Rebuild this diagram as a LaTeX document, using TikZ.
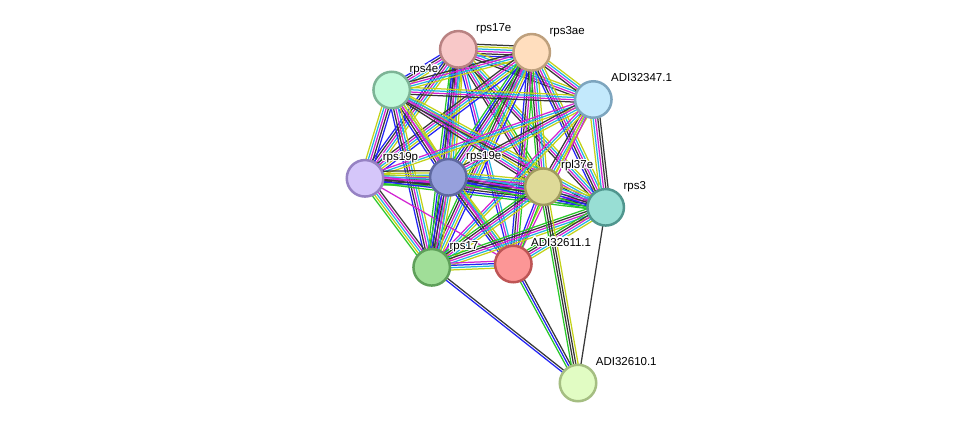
\documentclass[tikz,border=0pt]{standalone}
\usepackage{fontspec}
\setmainfont{Liberation Sans}
\usepackage{contour}
\contourlength{1.2pt}
\usetikzlibrary{calc}
\pgfdeclarelayer{background}
\pgfsetlayers{background,main}

\definecolor{strgreen}{RGB}{40,200,40}
\definecolor{strblue}{RGB}{35,35,245}
\definecolor{strblack}{RGB}{55,55,55}
\definecolor{strpink}{RGB}{210,35,210}
\definecolor{strcyan}{RGB}{35,180,225}
\definecolor{stryellow}{RGB}{195,210,25}

\tikzstyle{protein} = [circle, minimum size=36.5pt, inner sep=0pt, line width=2.5pt]
\tikzstyle{tag} = [anchor=base west, inner sep=0pt, font=\fontsize{11.5}{13}\selectfont]
\tikzstyle{link} = [line width=1.25pt]

% one evidence line per colour, side by side
\newcommand{\strlink}[3]{%
  \foreach \lcol [count=\lidx] in {#3} {\xdef\nlines{\lidx}}%
  \foreach \lcol [count=\lidx] in {#3} {%
    \pgfmathsetmacro{\loff}{(\lidx-(\nlines+1)/2)*2.3}%
    \draw [link, \lcol] ($(#1.center)!\loff pt!90:(#2.center)$) -- ($(#2.center)!\loff pt!-90:(#1.center)$);
  }}

\begin{document}
\begin{tikzpicture}[x=1pt, y=-1pt]
\useasboundingbox (0,0) rectangle (975,429);

%proteins
\node (rps17e) [protein, fill={rgb,255:red,248;green,200;blue,200}, draw={rgb,255:red,185;green,130;blue,130}] at (458.3,49.3) {};
\node (rps3ae) [protein, fill={rgb,255:red,255;green,222;blue,190}, draw={rgb,255:red,190;green,160;blue,125}] at (531.7,52.3) {};
\node (rps4e) [protein, fill={rgb,255:red,195;green,250;blue,220}, draw={rgb,255:red,125;green,180;blue,150}] at (391.7,90) {};
\node (adi347) [protein, fill={rgb,255:red,195;green,233;blue,252}, draw={rgb,255:red,125;green,165;blue,190}] at (593.3,99.5) {};
\node (rps19p) [protein, fill={rgb,255:red,213;green,198;blue,250}, draw={rgb,255:red,150;green,130;blue,195}] at (365,178.3) {};
\node (rps19e) [protein, fill={rgb,255:red,150;green,160;blue,220}, draw={rgb,255:red,95;green,105;blue,160}] at (448.3,177.3) {};
\node (rpl37e) [protein, fill={rgb,255:red,222;green,218;blue,152}, draw={rgb,255:red,160;green,155;blue,95}] at (543.3,186.7) {};
\node (rps3) [protein, fill={rgb,255:red,152;green,222;blue,212}, draw={rgb,255:red,80;green,150;blue,142}] at (605.7,207.3) {};
\node (rps17) [protein, fill={rgb,255:red,160;green,222;blue,152}, draw={rgb,255:red,95;green,160;blue,90}] at (431.7,267.3) {};
\node (adi611) [protein, fill={rgb,255:red,252;green,150;blue,150}, draw={rgb,255:red,190;green,85;blue,85}] at (513.3,264) {};
\node (adi610) [protein, fill={rgb,255:red,225;green,252;blue,195}, draw={rgb,255:red,165;green,190;blue,130}] at (578,383) {};

%labels
\node (t-rps17e) [tag] at ($(rps17e)+(17.7,-18)$) {\contour{white}{rps17e}};
\node (t-rps3ae) [tag] at ($(rps3ae)+(17.7,-18)$) {\contour{white}{rps3ae}};
\node (t-rps4e) [tag] at ($(rps4e)+(17.7,-18)$) {\contour{white}{rps4e}};
\node (t-adi347) [tag] at ($(adi347)+(17.7,-18)$) {\contour{white}{ADI32347.1}};
\node (t-rps19p) [tag] at ($(rps19p)+(17.7,-18)$) {\contour{white}{rps19p}};
\node (t-rps19e) [tag] at ($(rps19e)+(17.7,-18)$) {\contour{white}{rps19e}};
\node (t-rpl37e) [tag] at ($(rpl37e)+(17.7,-18)$) {\contour{white}{rpl37e}};
\node (t-rps3) [tag] at ($(rps3)+(17.7,-18)$) {\contour{white}{rps3}};
\node (t-rps17) [tag] at ($(rps17)+(17.7,-18)$) {\contour{white}{rps17}};
\node (t-adi611) [tag] at ($(adi611)+(17.7,-18)$) {\contour{white}{ADI32611.1}};
\node (t-adi610) [tag] at ($(adi610)+(17.7,-18)$) {\contour{white}{ADI32610.1}};

%links
\begin{pgfonlayer}{background}
\strlink{rps17e}{rps3ae}{strblue,strblack,strpink,strcyan,stryellow,strblack}
\strlink{rps17e}{rps4e}{strblue,strblack,strpink,strcyan,stryellow}
\strlink{rps17e}{adi347}{strblack,strpink,strcyan,stryellow}
\strlink{rps17e}{rps19p}{strblue,strblack,strpink,strcyan,stryellow}
\strlink{rps17e}{rps19e}{strgreen,strblue,strblack,strpink,strcyan,stryellow}
\strlink{rps17e}{rpl37e}{strblack,strpink,strcyan,stryellow,strgreen}
\strlink{rps17e}{rps3}{strblack,strpink,strcyan,stryellow}
\strlink{rps17e}{rps17}{strgreen,strblue,strblack,strpink,strcyan,stryellow}
\strlink{rps17e}{adi611}{strblue,strpink,strcyan}
\strlink{rps3ae}{rps4e}{strblack,strpink,strcyan,stryellow}
\strlink{rps3ae}{adi347}{strblack,strpink,strcyan,stryellow}
\strlink{rps3ae}{rps19p}{strblack,strpink,strcyan,stryellow,strblue}
\strlink{rps3ae}{rps19e}{strgreen,strblue,strblack,strpink,strcyan,stryellow}
\strlink{rps3ae}{rpl37e}{strgreen,strblack,strpink,strcyan,stryellow}
\strlink{rps3ae}{rps3}{strblue,strblack,strpink,strcyan,stryellow}
\strlink{rps3ae}{rps17}{strgreen,strblack,strpink,strcyan,stryellow,strblue}
\strlink{rps3ae}{adi611}{strblue,strblack,strpink,strgreen}
\strlink{rps4e}{adi347}{strblack,strpink,strcyan,stryellow}
\strlink{rps4e}{rps19p}{stryellow,strcyan,strpink,strblack,strblue}
\strlink{rps4e}{rps19e}{strblue,strblack,strpink,strcyan,stryellow}
\strlink{rps4e}{rpl37e}{strblack,strpink,strcyan,stryellow}
\strlink{rps4e}{rps3}{strblack,strpink,strcyan,stryellow}
\strlink{rps4e}{rps17}{strblue,strblack,strpink,strcyan,stryellow}
\strlink{rps4e}{adi611}{strpink,stryellow}
\strlink{adi347}{rps19p}{strpink,strcyan,stryellow}
\strlink{adi347}{rps19e}{strblack,strpink,strcyan,stryellow}
\strlink{adi347}{rpl37e}{strblack,strpink,strcyan,stryellow}
\strlink{adi347}{rps3}{stryellow,strcyan,strpink,strblack,strblack}
\strlink{adi347}{rps17}{strpink,strcyan,stryellow}
\strlink{adi347}{adi611}{stryellow,strpink}
\strlink{rps19p}{rps19e}{strgreen,strblue,strblack,strpink,strcyan,stryellow,strblack}
\strlink{rps19p}{rpl37e}{strgreen,strblack,strpink,strcyan,stryellow}
\strlink{rps19p}{rps3}{strgreen,strblue,strblack,strpink}
\strlink{rps19p}{rps17}{strgreen,stryellow,strcyan,strpink,strblack}
\strlink{rps19p}{adi611}{strpink}
\strlink{rps19e}{rpl37e}{strgreen,strblue,strblack,strpink,strcyan,stryellow}
\strlink{rps19e}{rps3}{strgreen,strblue,strblack,strpink,strcyan}
\strlink{rps19e}{rps17}{strgreen,strblue,strblack,strpink,strcyan,stryellow}
\strlink{rps19e}{adi611}{strblue,strblack,strpink,strcyan,stryellow}
\strlink{rpl37e}{rps3}{strgreen,strblue,strblack,strpink,strcyan,stryellow}
\strlink{rpl37e}{rps17}{strgreen,strblack,strpink,strcyan,stryellow}
\strlink{rpl37e}{adi611}{strblue,strpink,strgreen}
\strlink{rps3}{rps17}{strgreen,strblack,strpink,strcyan,stryellow}
\strlink{rps3}{adi611}{strgreen,strblack,strpink,strcyan,stryellow}
\strlink{rps17}{adi611}{stryellow,strcyan,strblue,strpink}
\strlink{adi610}{rps17}{strblack,strblue}
\strlink{adi610}{adi611}{strblack,strblue,strgreen}
\strlink{adi610}{rpl37e}{stryellow,strblack,strblack,strgreen}
\strlink{adi610}{rps3}{strblack}
\end{pgfonlayer}

\end{tikzpicture}
\end{document}
